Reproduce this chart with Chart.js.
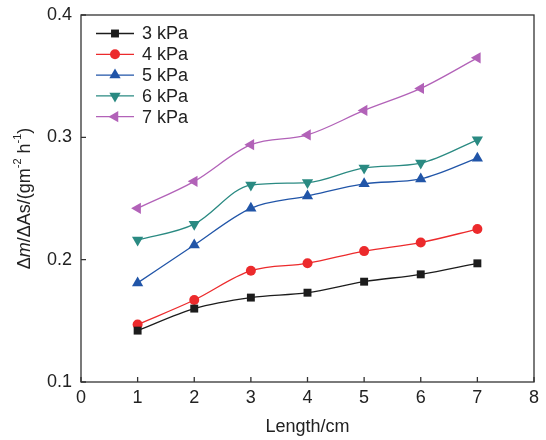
<!DOCTYPE html>
<html>
<head>
<meta charset="utf-8">
<script src="https://cdn.jsdelivr.net/npm/chart.js@4"></script>
<style>
  body { margin: 0; background: #fff; }
  canvas { display: block; }
</style>
</head>
<body>
<canvas id="myChart" width="546" height="440"></canvas>
<script>
// length along the sample (cm)
var lengths = [1, 2, 3, 4, 5, 6, 7];
// dm/dAs values, one array per pressure
var kpa3 = [0.142, 0.160, 0.169, 0.173, 0.182, 0.188, 0.197];
var kpa4 = [0.147, 0.167, 0.191, 0.197, 0.207, 0.214, 0.225];
var kpa5 = [0.181, 0.212, 0.242, 0.252, 0.262, 0.266, 0.283];
var kpa6 = [0.216, 0.229, 0.261, 0.263, 0.275, 0.279, 0.298];
var kpa7 = [0.242, 0.264, 0.294, 0.302, 0.322, 0.340, 0.365];
var seriesNames = ['3 kPa', '4 kPa', '5 kPa', '6 kPa', '7 kPa'];
var xTicks = [0, 1, 2, 3, 4, 5, 6, 7, 8];
var yTicks = [0.1, 0.2, 0.3, 0.4];

var FONT = '"Liberation Sans", Arial, sans-serif';
var TEXT = '#222';

function pts(vals) {
  return vals.map(function (v, i) { return { x: lengths[i], y: v }; });
}

function makeSet(label, vals, color, style, rot, r) {
  return {
    label: label,
    data: pts(vals),
    borderColor: color,
    backgroundColor: color,
    borderWidth: 1.3,
    pointStyle: style,
    rotation: rot,
    pointRadius: r,
    pointBorderWidth: 0,
    cubicInterpolationMode: 'monotone'
  };
}

// inward ticks, box frame, legend and y title
var decor = {
  id: 'decor',
  afterDraw: function (chart) {
    var ctx = chart.ctx;
    var a = chart.chartArea;
    var xs = chart.scales.x, ys = chart.scales.y;
    ctx.save();
    ctx.strokeStyle = '#333';
    ctx.lineWidth = 1.3;
    ctx.strokeRect(a.left, a.top, a.right - a.left, a.bottom - a.top);
    ctx.beginPath();
    xTicks.forEach(function (t) {
      var px = xs.getPixelForValue(t);
      ctx.moveTo(px, a.bottom);
      ctx.lineTo(px, a.bottom - 5);
    });
    yTicks.forEach(function (t) {
      var py = ys.getPixelForValue(t);
      ctx.moveTo(a.left, py);
      ctx.lineTo(a.left + 5, py);
    });
    ctx.stroke();

    // legend
    chart.data.datasets.forEach(function (ds, i) {
      var y = 33.5 + i * 20.8;
      ctx.strokeStyle = ds.borderColor;
      ctx.lineWidth = 1.3;
      ctx.beginPath();
      ctx.moveTo(96, y);
      ctx.lineTo(134, y);
      ctx.stroke();
      ctx.fillStyle = ds.backgroundColor;
      Chart.helpers.drawPoint(ctx, {
        pointStyle: ds.pointStyle, rotation: ds.rotation, radius: ds.pointRadius, borderWidth: 0
      }, 115, y);
      ctx.fillStyle = TEXT;
      ctx.font = '18px ' + FONT;
      ctx.textBaseline = 'middle';
      ctx.textAlign = 'left';
      ctx.fillText(ds.label, 142, y + 1);
    });

    // y axis title with italic m and superscripts
    var parts = [
      ['\u0394', '18px', 0],
      ['m', 'italic 18px', 0],
      ['/\u0394As/(gm', '18px', 0],
      ['-2', '11px', -7],
      [' h', '18px', 0],
      ['-1', '11px', -7],
      [')', '18px', 0]
    ];
    var total = 0;
    parts.forEach(function (p) {
      ctx.font = p[1] + ' ' + FONT;
      p.push(ctx.measureText(p[0]).width);
      total += p[3];
    });
    ctx.translate(25, (a.top + a.bottom) / 2);
    ctx.rotate(-Math.PI / 2);
    ctx.textBaseline = 'middle';
    ctx.textAlign = 'left';
    ctx.fillStyle = TEXT;
    var cx = -total / 2;
    parts.forEach(function (p) {
      ctx.font = p[1] + ' ' + FONT;
      ctx.fillText(p[0], cx, p[2]);
      cx += p[3];
    });
    ctx.restore();
  }
};

var ctx = document.getElementById('myChart').getContext('2d');
var chart = new Chart(ctx, {
  type: 'line',
  data: {
    datasets: [
      makeSet(seriesNames[0], kpa3, '#1c1c1c', 'rect', 0, 5.6),
      makeSet(seriesNames[1], kpa4, '#ec2a2c', 'circle', 0, 5),
      makeSet(seriesNames[2], kpa5, '#2155a8', 'triangle', 0, 6.5),
      makeSet(seriesNames[3], kpa6, '#2a8a82', 'triangle', 180, 6.5),
      makeSet(seriesNames[4], kpa7, '#b262b8', 'triangle', -90, 6.5)
    ]
  },
  plugins: [decor],
  options: {
    responsive: false,
    animation: false,
    layout: { padding: { top: 15, right: 12, left: 0, bottom: 0 } },
    plugins: {
      legend: { display: false },
      tooltip: { enabled: false }
    },
    scales: {
      x: {
        type: 'linear',
        min: 0,
        max: 8,
        ticks: { stepSize: 1, color: TEXT, padding: 5, font: { size: 18, family: FONT } },
        grid: { display: false, drawTicks: false },
        border: { display: false },
        title: { display: true, text: 'Length/cm', color: TEXT, font: { size: 18, family: FONT }, padding: { top: 0, bottom: 2 } },
        afterFit: function (s) { s.height = 58; }
      },
      y: {
        min: 0.1,
        max: 0.4,
        ticks: {
          stepSize: 0.1, color: TEXT, padding: 9, font: { size: 18, family: FONT },
          callback: function (v) { return v.toFixed(1); }
        },
        grid: { display: false, drawTicks: false },
        border: { display: false },
        afterFit: function (s) { s.width = 81; s.paddingTop = 0; s.paddingBottom = 0; }
      }
    }
  }
});
</script>
</body>
</html>
